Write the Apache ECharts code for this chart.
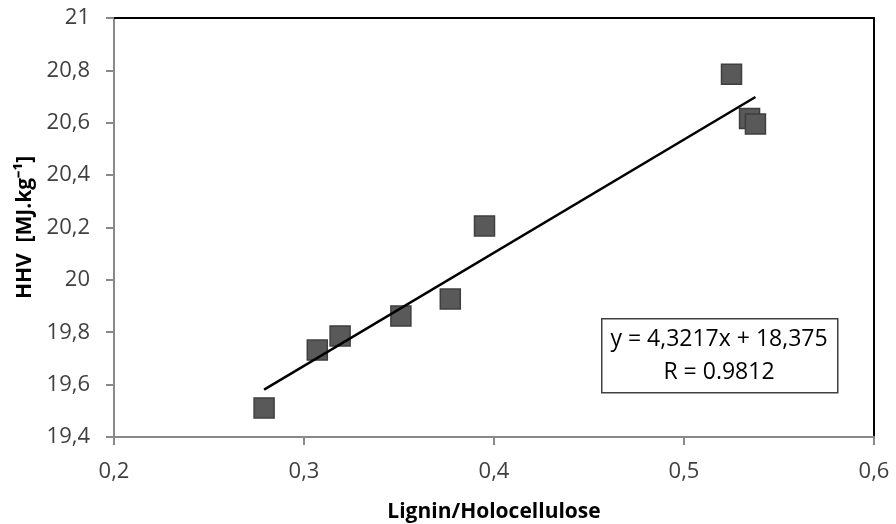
<!DOCTYPE html>
<html>
<head>
<meta charset="utf-8">
<script src="https://cdn.jsdelivr.net/npm/echarts@6/dist/echarts.min.js"></script>
<style>html,body{margin:0;padding:0;background:#fff}#c{width:896px;height:524px}</style>
</head>
<body>
<div id="c"></div>
<script>
var xValues = [0.279, 0.307, 0.319, 0.351, 0.377, 0.395, 0.525, 0.5345, 0.5376];
var yValues = [19.511, 19.732, 19.786, 19.862, 19.927, 20.206, 20.785, 20.616, 20.595];
var slope = 4.3217, intercept = 18.375;
var eqLabel = 'y = 4,3217x + 18,375';
var rLabel = 'R = 0.9812';
var xTitle = 'Lignin/Holocellulose';
var yTitle = 'HHV  [MJ.kg⁻¹]';

var pts = xValues.map(function (x, i) { return [x, yValues[i]]; });
var xmin = Math.min.apply(null, xValues), xmax = Math.max.apply(null, xValues);
var trend = [[xmin, slope * xmin + intercept], [xmax, slope * xmax + intercept]];

function fmt(v) { return String(Number(v.toFixed(2))).replace('.', ','); }
var FONT = 'Open Sans';
var chart = echarts.init(document.getElementById('c'));
chart.setOption({
  animation: false,
  grid: { left: 114, right: 22, top: 18, bottom: 87, containLabel: false, outerBoundsMode: 'none' },
  xAxis: [{
    type: 'value', min: 0.2, max: 0.6, interval: 0.1,
    name: xTitle, nameLocation: 'middle', nameGap: 65,
    nameTextStyle: { fontFamily: FONT, fontWeight: 'bold', fontSize: 21, color: '#000' },
    axisLine: { show: true, lineStyle: { color: '#898989', width: 2 } },
    axisTick: { show: true, length: 8, lineStyle: { color: '#898989', width: 2 } },
    axisLabel: { formatter: fmt, margin: 24, fontFamily: FONT, fontSize: 22, color: '#404040' },
    splitLine: { show: false }
  }, {
    type: 'value', min: 0.2, max: 0.6, position: 'top',
    axisLine: { show: true, lineStyle: { color: '#000', width: 2 } },
    axisTick: { show: false }, axisLabel: { show: false }, splitLine: { show: false }
  }],
  yAxis: [{
    type: 'value', min: 19.4, max: 21, interval: 0.2,
    name: yTitle, nameLocation: 'middle', nameGap: 78, nameRotate: 90,
    nameTextStyle: { fontFamily: FONT, fontWeight: 'bold', fontSize: 21, color: '#000' },
    axisLine: { show: true, lineStyle: { color: '#898989', width: 2 } },
    axisTick: { show: true, length: 8, lineStyle: { color: '#898989', width: 2 } },
    axisLabel: { formatter: fmt, margin: 24, fontFamily: FONT, fontSize: 22, color: '#404040' },
    splitLine: { show: false }
  }, {
    type: 'value', min: 19.4, max: 21, position: 'right',
    axisLine: { show: true, lineStyle: { color: '#000', width: 2 } },
    axisTick: { show: false }, axisLabel: { show: false }, splitLine: { show: false }
  }],
  series: [{
    type: 'scatter', data: pts, symbol: 'rect', symbolSize: 20, z: 2,
    itemStyle: { color: '#595959', borderColor: '#3f3f3f', borderWidth: 1.5, opacity: 1 }
  }, {
    type: 'line', data: trend, symbol: 'none', z: 3,
    lineStyle: { color: '#000', width: 2.5 }
  }],
  graphic: [{
    type: 'rect', left: 601, top: 318, z: 10,
    shape: { width: 236, height: 74 },
    style: { fill: '#fff', stroke: '#404040', lineWidth: 1.5 }
  }, {
    type: 'text', x: 719, y: 339, z: 11,
    style: { text: eqLabel, fontFamily: FONT, fontSize: 23, fill: '#000', align: 'center', verticalAlign: 'middle' }
  }, {
    type: 'text', x: 719, y: 372, z: 11,
    style: { text: rLabel, fontFamily: FONT, fontSize: 23, fill: '#000', align: 'center', verticalAlign: 'middle' }
  }]
});
</script>
</body>
</html>
